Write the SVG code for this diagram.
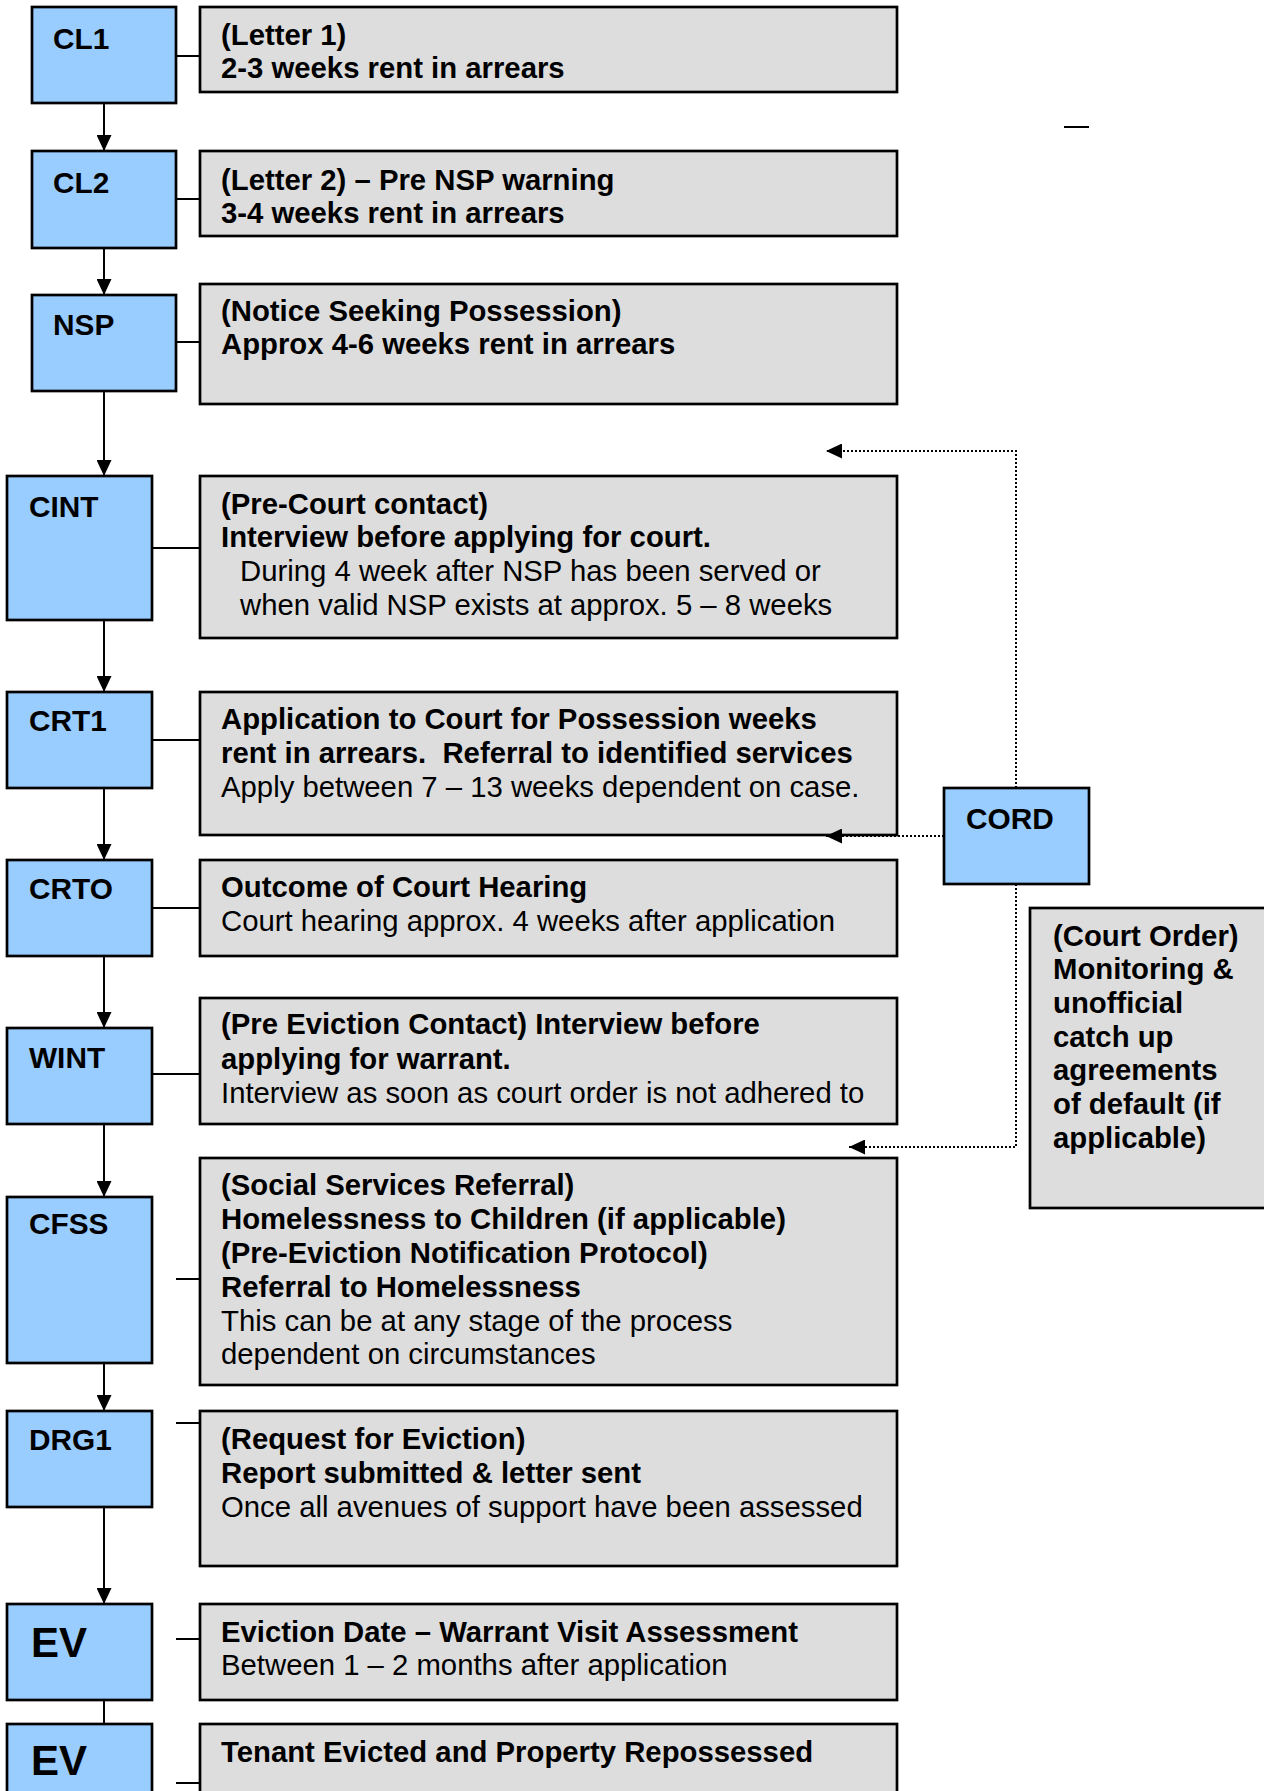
<svg xmlns="http://www.w3.org/2000/svg" width="1264" height="1791" viewBox="0 0 1264 1791">
<style>
.b{fill:#99CCFF;stroke:#000;stroke-width:2.7}
.g{fill:#DDDDDD;stroke:#000;stroke-width:2.7}
text{font-family:"Liberation Sans",Arial,sans-serif;font-size:29.3px;fill:#000}
.bd{font-weight:bold}
.lb{font-weight:bold;font-size:29.8px}
.big{font-size:42px}
.c{stroke:#000;stroke-width:2;fill:none}
.d{stroke:#000;stroke-width:2;fill:none;stroke-dasharray:2 2}
</style>
<defs>
<marker id="ah" viewBox="0 0 16 15" refX="16" refY="7.5" markerWidth="16" markerHeight="15" markerUnits="userSpaceOnUse" orient="auto">
<path d="M0,0 L16,7.5 L0,15 Z" fill="#000"/>
</marker>
</defs>
<rect x="0" y="0" width="1264" height="1791" fill="#fff"/>

<g id="CL1"><rect class="b" x="32" y="7" width="144" height="96"/><text class="lb" x="53" y="49">CL1</text></g>
<g id="CL1-desc"><rect class="g" x="200" y="7" width="697" height="85"/>
<text class="bd" x="221" y="45">(Letter 1)</text><text class="bd" x="221" y="78">2-3 weeks rent in arrears</text></g>

<g id="CL2"><rect class="b" x="32" y="151" width="144" height="97"/><text class="lb" x="53" y="193">CL2</text></g>
<g id="CL2-desc"><rect class="g" x="200" y="151" width="697" height="85"/>
<text class="bd" x="221" y="190">(Letter 2) – Pre NSP warning</text><text class="bd" x="221" y="223">3-4 weeks rent in arrears</text></g>

<g id="NSP"><rect class="b" x="32" y="295" width="144" height="96"/><text class="lb" x="53" y="335">NSP</text></g>
<g id="NSP-desc"><rect class="g" x="200" y="284" width="697" height="120"/>
<text class="bd" x="221" y="321">(Notice Seeking Possession)</text><text class="bd" x="221" y="354">Approx 4-6 weeks rent in arrears</text></g>

<g id="CINT"><rect class="b" x="7" y="476" width="145" height="144"/><text class="lb" x="29" y="517">CINT</text></g>
<g id="CINT-desc"><rect class="g" x="200" y="476" width="697" height="162"/>
<text class="bd" x="221" y="514">(Pre-Court contact)</text><text class="bd" x="221" y="547">Interview before applying for court.</text>
<text x="240" y="581">During 4 week after NSP has been served or</text><text x="240" y="615">when valid NSP exists at approx. 5 – 8 weeks</text></g>

<g id="CRT1"><rect class="b" x="7" y="692" width="145" height="96"/><text class="lb" x="29" y="731">CRT1</text></g>
<g id="CRT1-desc"><rect class="g" x="200" y="692" width="697" height="143"/>
<text class="bd" x="221" y="729">Application to Court for Possession weeks</text>
<text class="bd" x="221" y="763" xml:space="preserve">rent in arrears.  Referral to identified services</text>
<text x="221" y="797">Apply between 7 – 13 weeks dependent on case.</text></g>

<g id="CRTO"><rect class="b" x="7" y="860" width="145" height="96"/><text class="lb" x="29" y="899">CRTO</text></g>
<g id="CRTO-desc"><rect class="g" x="200" y="860" width="697" height="96"/>
<text class="bd" x="221" y="897">Outcome of Court Hearing</text><text x="221" y="931">Court hearing approx. 4 weeks after application</text></g>

<g id="WINT"><rect class="b" x="7" y="1028" width="145" height="96"/><text class="lb" x="29" y="1068">WINT</text></g>
<g id="WINT-desc"><rect class="g" x="200" y="998" width="697" height="126"/>
<text class="bd" x="221" y="1034">(Pre Eviction Contact) Interview before</text><text class="bd" x="221" y="1069">applying for warrant.</text>
<text x="221" y="1103">Interview as soon as court order is not adhered to</text></g>

<g id="CFSS"><rect class="b" x="7" y="1197" width="145" height="166"/><text class="lb" x="29" y="1234">CFSS</text></g>
<g id="CFSS-desc"><rect class="g" x="200" y="1158" width="697" height="227"/>
<text class="bd" x="221" y="1195">(Social Services Referral)</text>
<text class="bd" x="221" y="1229">Homelessness to Children (if applicable)</text>
<text class="bd" x="221" y="1263">(Pre-Eviction Notification Protocol)</text>
<text class="bd" x="221" y="1297">Referral to Homelessness</text>
<text x="221" y="1331">This can be at any stage of the process</text>
<text x="221" y="1364">dependent on circumstances</text></g>

<g id="DRG1"><rect class="b" x="7" y="1411" width="145" height="96"/><text class="lb" x="29" y="1450">DRG1</text></g>
<g id="DRG1-desc"><rect class="g" x="200" y="1411" width="697" height="155"/>
<text class="bd" x="221" y="1449">(Request for Eviction)</text><text class="bd" x="221" y="1483">Report submitted &amp; letter sent</text>
<text x="221" y="1517">Once all avenues of support have been assessed</text></g>

<g id="EV"><rect class="b" x="7" y="1604" width="145" height="96"/><text class="lb big" x="31" y="1657">EV</text></g>
<g id="EV-desc"><rect class="g" x="200" y="1604" width="697" height="96"/>
<text class="bd" x="221" y="1642">Eviction Date – Warrant Visit Assessment</text><text x="221" y="1675">Between 1 – 2 months after application</text></g>

<g id="EV2"><rect class="b" x="7" y="1724" width="145" height="100"/><text class="lb big" x="31" y="1775">EV</text></g>
<g id="EV2-desc"><rect class="g" x="200" y="1724" width="697" height="100"/>
<text class="bd" x="221" y="1762">Tenant Evicted and Property Repossessed</text></g>

<g id="CORD"><rect class="b" x="944" y="788" width="145" height="96"/><text class="lb" x="966" y="829">CORD</text></g>
<g id="CORD-desc"><rect class="g" x="1030" y="908" width="250" height="300"/>
<text class="bd" x="1053" y="946">(Court Order)</text>
<text class="bd" x="1053" y="979">Monitoring &amp;</text>
<text class="bd" x="1053" y="1013">unofficial</text>
<text class="bd" x="1053" y="1047">catch up</text>
<text class="bd" x="1053" y="1080">agreements</text>
<text class="bd" x="1053" y="1114">of default (if</text>
<text class="bd" x="1053" y="1148">applicable)</text></g>

<g id="connectors">
<line class="c" x1="176" y1="56" x2="200" y2="56"/>
<line class="c" x1="176" y1="199" x2="200" y2="199"/>
<line class="c" x1="176" y1="342" x2="200" y2="342"/>
<line class="c" x1="152" y1="548" x2="200" y2="548"/>
<line class="c" x1="152" y1="740" x2="200" y2="740"/>
<line class="c" x1="152" y1="908" x2="200" y2="908"/>
<line class="c" x1="152" y1="1074" x2="200" y2="1074"/>
<line class="c" x1="176" y1="1279" x2="200" y2="1279"/>
<line class="c" x1="176" y1="1423" x2="200" y2="1423"/>
<line class="c" x1="176" y1="1639" x2="200" y2="1639"/>
<line class="c" x1="176" y1="1783" x2="200" y2="1783"/>
<line class="c" x1="104" y1="103" x2="104" y2="151" marker-end="url(#ah)"/>
<line class="c" x1="104" y1="248" x2="104" y2="295" marker-end="url(#ah)"/>
<line class="c" x1="104" y1="391" x2="104" y2="476" marker-end="url(#ah)"/>
<line class="c" x1="104" y1="620" x2="104" y2="692" marker-end="url(#ah)"/>
<line class="c" x1="104" y1="788" x2="104" y2="860" marker-end="url(#ah)"/>
<line class="c" x1="104" y1="956" x2="104" y2="1028" marker-end="url(#ah)"/>
<line class="c" x1="104" y1="1124" x2="104" y2="1197" marker-end="url(#ah)"/>
<line class="c" x1="104" y1="1363" x2="104" y2="1411" marker-end="url(#ah)"/>
<line class="c" x1="104" y1="1507" x2="104" y2="1604" marker-end="url(#ah)"/>
<line class="c" x1="104" y1="1700" x2="104" y2="1724"/>
<path class="d" d="M1016,788 V451 H826" marker-end="url(#ah)"/>
<path class="d" d="M944,836 H826" marker-end="url(#ah)"/>
<path class="d" d="M1016,884 V1147 H849" marker-end="url(#ah)"/>
<line x1="1064" y1="127" x2="1089" y2="127" stroke="#000" stroke-width="2"/>
</g>
</svg>
